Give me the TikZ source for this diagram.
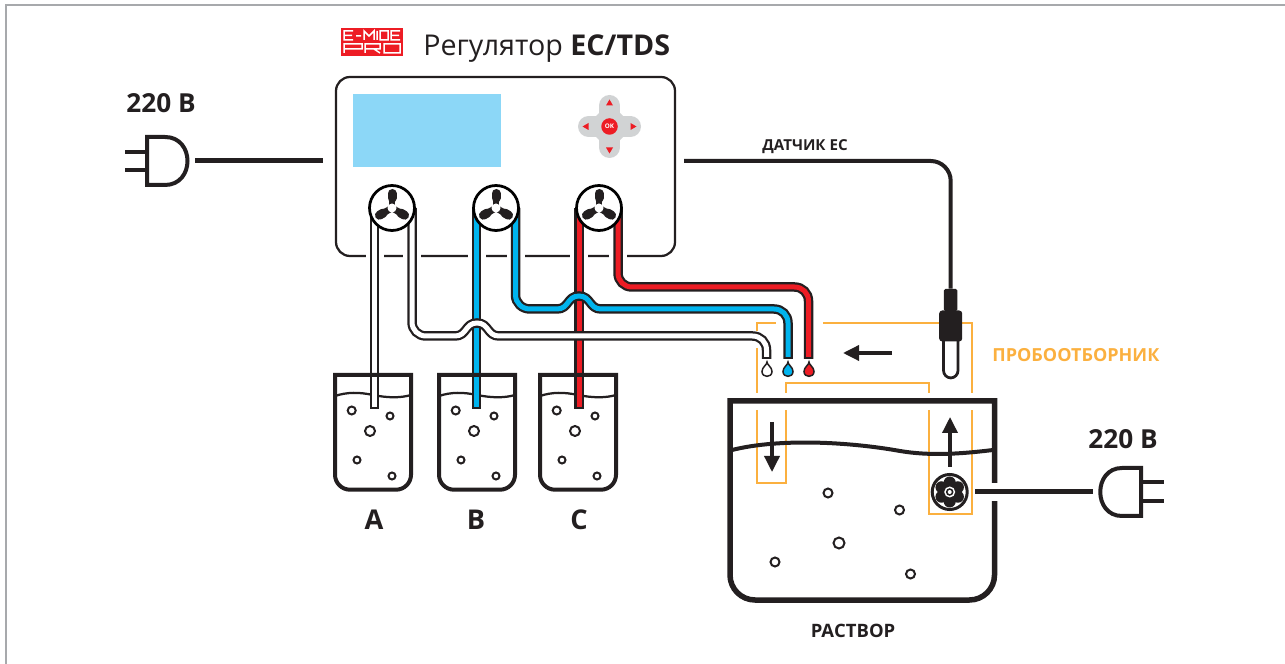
\documentclass[tikz,border=0pt]{standalone}
\usepackage{fontspec}
\usepackage{xcolor}
\usepackage{tikz}
\usetikzlibrary{arrows.meta, shapes, positioning, calc}
\setmainfont{Open Sans}
\definecolor{C_INK} {HTML}{231F20}
\definecolor{C_RED} {HTML}{ED1C24}
\definecolor{C_BLUE}{HTML}{00B4EE}
\definecolor{C_LCD} {HTML}{8CD7F7}
\definecolor{C_KEY} {HTML}{D1D3D4}
\definecolor{C_YEL} {HTML}{FBB03F}
\definecolor{C_EDGE}{HTML}{A7A9AC}
\newcommand{\fsz}[1]{\fontsize{#1}{#1}\selectfont}
\newcommand{\tubeline}[2]{%
  \draw[reg/tubeout] #2;
  \draw[reg/tubein, #1] #2;}
\tikzset{
  %% -- controller --
  reg/box/.style={
    draw=C_INK, line width=.45mm, rounded corners=2.8mm,
    minimum width=67.8mm, minimum height=35.8mm, inner sep=0pt
  },
  reg/lcd/.style={
    fill=C_LCD, minimum width=29.6mm, minimum height=14.6mm, inner sep=0pt
  },
  reg/pump/.style={
    circle, draw=black, fill=white, line width=.55mm,
    minimum size=9mm, inner sep=0pt
  },
  %% -- pump blade --
  reg/blade/.style={C_INK, line width=1.3mm},
  reg/bladeend/.style={C_INK, line width=1.8mm, line cap=round},
  %% -- tubing --
  reg/tubeout/.style={C_INK, line width=1.9mm},
  reg/tubein/.style={line width=1mm, shorten >=.4mm},
  %% -- wires and vessels --
  reg/cable/.style={C_INK, line width=1mm},
  reg/wall/.style={C_INK, line width=.8mm},
  reg/water/.style={C_INK, line width=.45mm},
  reg/bubble/.style={C_INK, fill=white, line width=.4mm},
  reg/plug/.style={C_INK, line width=.8mm},
  %% -- sampler outline --
  reg/sampler/.style={C_YEL, line width=.34mm},
  %% -- flow arrow --
  reg/flow/.style={-{Triangle[length=3.2mm, width=3mm]}, C_INK, line width=.7mm},
  reg/volt/.style={font=\fsz{14.9}\bfseries, text=C_INK, inner sep=0pt},
  reg/lbl/.style={font=\fsz{8.6}\bfseries, text=C_INK, inner sep=0pt},
}
\begin{document}
\begin{tikzpicture}[x=.2mm, y=-.2mm]
\useasboundingbox (0,0) rectangle (1285,664);

%% Frame
\draw[C_EDGE, line width=.4mm] (5.5,664) -- (5.5,5.5) -- (1285,5.5);

%% Title and logo
\fill[C_RED] (341,28) rectangle (403,56);
\draw[white, line width=.3mm, line join=miter]
  (353,31) -- (344,31) -- (344,40) -- (353,40)
  (344,35.5) -- (352,35.5)
  (356,36) -- (361,36)
  (364,40) -- (364,31) -- (369,36) -- (374,31) -- (374,40)
  (377,31) -- (377,40)
  (380,31) -- (388,31) -- (388,40) -- (380,40) -- cycle
  (400,31) -- (391,31) -- (391,40) -- (400,40)
  (391,35.5) -- (399,35.5)
  (344,53) -- (344,44) -- (362,44) -- (362,49) -- (344,49)
  (365,53) -- (365,44) -- (380,44) -- (380,49) -- (365,49)
  (374,49) -- (380,53)
  (384,44) -- (400,44) -- (400,53) -- (384,53) -- cycle;
\node[anchor=base west, inner sep=0pt, text=C_INK, font=\fsz{16.3}] (title) at (423,56)
  {Регулятор \textbf{EC/TDS}};

%% Sampler outline
\draw[reg/sampler] (757,331) -- (757,323) -- (776,323);
\draw[reg/sampler] (757,348) -- (757,393);
\draw[reg/sampler] (823,323) -- (972,323) -- (972,393);
\draw[reg/sampler] (786,393) -- (786,383) -- (929,383) -- (929,393);
\draw[reg/sampler] (757,410) -- (757,483) -- (786,483) -- (786,410);
\draw[reg/sampler] (929,410) -- (929,514) -- (972,514) -- (972,410);

%% Controller
\node[reg/box] (box) at (505.5,166.5) {};
\node[reg/lcd] (lcd) at (427,130.5) {};
\foreach \x in {374.5,412,476.7,515.5,579,618}
  \draw[white, line width=3.6mm] (\x,250) -- (\x,262);

%% Keypad
\coordinate (keys) at (609.5,126.5);
\fill[C_KEY] ([xshift=-4.8mm]keys) -- ([yshift=4.8mm]keys)
  -- ([xshift=4.8mm]keys) -- ([yshift=-4.8mm]keys) -- cycle;
\draw[C_KEY, line width=4.2mm, line cap=round]
  ([yshift=4.2mm]keys) -- ([yshift=-4.2mm]keys)
  ([xshift=-4.2mm]keys) -- ([xshift=4.2mm]keys);
\foreach \a in {0,90,180,270}
  \fill[C_RED, shift={(keys)}, rotate=\a] (21,-3.5) -- (21,3.5) -- (27,0) -- cycle;
\node[circle, fill=C_RED, minimum size=3.3mm, inner sep=0pt, text=white,
  font=\fsz{3.6}\bfseries] (okkey) at (keys) {OK};

%% Pump positions
\coordinate (pA) at (392,208);
\coordinate (pB) at (496,208);
\coordinate (pC) at (599,208);

%% Beakers with their suction tubes
\foreach \name/\bx/\tx/\lx/\col in {A/333/374.5/374/white, B/437/476.7/476/C_BLUE, C/538/579/579/C_RED} {
  \coordinate (top\name) at (\tx,208);
  \coordinate (tip\name) at (\tx,409);
  \draw[reg/water, shift={(\bx,0)}] (2,396) .. controls (14,392) and (26,392) .. (40,395)
    .. controls (55,398) and (68,398) .. (78,395);
  \tubeline{\col}{(top\name) -- (tip\name)}
  \begin{scope}[shift={(\bx,0)}]
    \draw[reg/wall] (2,375) [rounded corners=3mm] -- (2,489.7) -- (78,489.7) [sharp corners] -- (78,375) -- cycle;
    \draw[reg/bubble] (18.7,410.5) circle (4);
    \draw[reg/bubble] (57,416) circle (3.5);
    \draw[reg/bubble] (37,431) circle (5);
    \draw[reg/bubble] (24,460) circle (3.5);
    \draw[reg/bubble] (59,476) circle (3.5);
  \end{scope}
  \node[font=\fsz{15.5}\bfseries, text=C_INK, inner sep=0pt] (lbl\name) at (\lx,520) {\name};
}

%% Discharge tubes
\coordinate (outA) at (412,208);
\coordinate (outB) at (515.5,208);
\coordinate (outC) at (618,208);
\coordinate (endA) at (766.5,359);
\coordinate (endB) at (788,359);
\coordinate (endC) at (808.5,359);
\tubeline{C_RED}{(outC) -- (618,273) .. controls (618,281) and (624,287) .. (632,287)
  -- (794.5,287) .. controls (802.5,287) and (808.5,293) .. (808.5,301) -- (endC)}
\tubeline{C_BLUE}{(outB) -- (515.5,295) .. controls (515.5,303) and (522,309) .. (530,309)
  -- (557,309) .. controls (569,309) and (567,296) .. (579,296)
  .. controls (591,296) and (589,309) .. (601,309)
  -- (774,309) .. controls (782,309) and (788,315) .. (788,323) -- (endB)}
\tubeline{white}{(outA) -- (412,322) .. controls (412,330) and (418,336) .. (426,336)
  -- (455,336) .. controls (467,336) and (465,323) .. (477,323)
  .. controls (489,323) and (487,336) .. (499,336)
  -- (752.5,336) .. controls (760.5,336) and (766.5,342) .. (766.5,350) -- (endA)}

%% Pumps
\foreach \p in {A,B,C} {
  \node[reg/pump] (pump\p) at (p\p) {};
  \foreach \a in {90,210,330} {
    \draw[reg/blade] (pump\p.center) -- ++(\a:2.6mm);
    \draw[reg/bladeend] ([shift={(\a:2mm)}]pump\p.center) -- ([shift={(\a:2.9mm)}]pump\p.center);
  }
  \fill[white] (pump\p.center) circle (4.5);
}

%% Drops
\foreach \x/\col in {767/white, 788/C_BLUE, 809/C_RED}
  \draw[C_INK, fill=\col, line width=.3mm, shift={(\x,0)}]
    (0,362) .. controls (0,365) and (5,367) .. (5,371.5)
    .. controls (5,378) and (-5,378) .. (-5,371.5)
    .. controls (-5,367) and (0,365) .. (0,362) -- cycle;

%% Sensor
\coordinate (ecout) at (684,161);
\node[fill=C_INK, rounded corners=.3mm, minimum width=2.7mm, minimum height=4.4mm, inner sep=0pt]
  (sensortop) at (950.7,300) {};
\node[fill=C_INK, rounded corners=.6mm, minimum width=4.6mm, minimum height=6.2mm, inner sep=0pt]
  (sensor) at (950.7,326) {};
\draw[C_INK, line width=.8mm, rounded corners=4mm] (ecout) -| (sensortop);
\draw[C_INK, line width=.55mm, rounded corners=1.5mm]
  (943.5,340) -- (943.5,378) -- (958,378) -- (958,340);
\node[reg/lbl] (eclbl) at (805,146.5) {ДАТЧИК ЕС};
\node[reg/lbl, anchor=west, font=\fsz{10.25}\bfseries, text=C_YEL] (samplbl) at (992,355) {ПРОБООТБОРНИК};

%% Flow arrows
\coordinate (flowA) at (892,353);
\coordinate (flowB) at (843,353);
\coordinate (flowC) at (772,422);
\coordinate (flowD) at (772,472);
\coordinate (flowE) at (950,467);
\coordinate (flowF) at (950,417);
\draw[reg/flow] (flowA) -- (flowB);

%% Tank
\draw[C_INK, line width=1.1mm] (730,401) [rounded corners=5mm] -- (730,600) -- (994.5,600)
  [sharp corners] -- (994.5,401) -- cycle;
\draw[C_INK, line width=.8mm] (732,450) .. controls (780,438) and (850,442) .. (900,451)
  .. controls (930,456) and (960,454) .. (993,450);
\draw[reg/flow] (flowC) -- (flowD);
\draw[reg/flow] (flowE) -- (flowF);
\foreach \x/\y/\r in {828/493/4.5, 899.5/510/4.5, 839/543/5.5, 775/562/4.5, 910.5/574/4.5}
  \draw[reg/bubble] (\x,\y) circle (\r);
\node[reg/lbl, font=\fsz{10.5}\bfseries] (tanklbl) at (853,631) {РАСТВОР};

%% Circulation pump
\node[circle, draw=C_INK, fill=white, line width=.6mm, minimum size=7mm, inner sep=0pt]
  (circ) at (949.7,492) {};
\foreach \a in {30,90,...,330}
  \fill[C_INK] ([shift={(\a:1.9mm)}]circ.center) circle (6);
\fill[C_INK] (circ.center) circle (8);
\fill[white] (circ.center) circle (5.5);
\fill[C_INK] (circ.center) circle (3.8);
\fill[white] (circ.center) circle (2);

%% Left mains
\coordinate (cordL) at (195,161);
\coordinate (boxin) at (323,161);
\node[reg/volt] (voltL) at (161,103) {220 В};
\draw[reg/plug] (147,137) -- (165,137) .. controls (195,137) and (195,185) .. (165,185) -- (147,185) -- cycle;
\draw[reg/plug] (125,152) -- (147,152) (125,170) -- (147,170);
\draw[reg/cable] (cordL) -- (boxin);

%% Right mains
\fill[white] (988,483) rectangle (1001,501);
\coordinate (cordR) at (975,492);
\coordinate (plugin) at (1093,492);
\node[reg/volt] (voltR) at (1123,439) {220 В};
\draw[reg/plug] (1141,468) -- (1122,468) .. controls (1093,468) and (1093,516) .. (1122,516) -- (1141,516) -- cycle;
\draw[reg/plug] (1141,482) -- (1164,482) (1141,501) -- (1164,501);
\draw[reg/cable] (cordR) -- (plugin);
\end{tikzpicture}
\end{document}
